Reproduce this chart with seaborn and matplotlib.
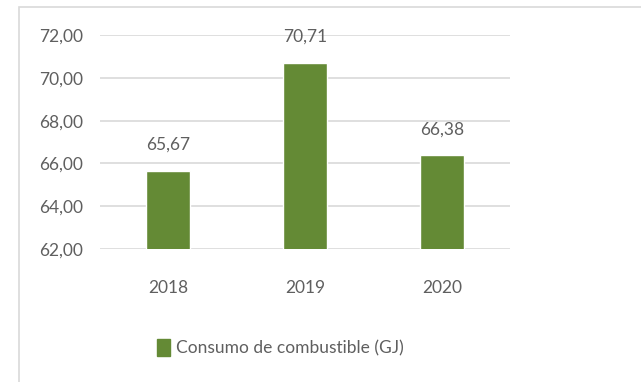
import matplotlib
matplotlib.use("Agg")
import matplotlib.pyplot as plt
import matplotlib.patches as mpatches
import seaborn as sns
import pandas as pd

# Annual fuel consumption
years = ["2018", "2019", "2020"]
consumo = [65.67, 70.71, 66.38]
value_labels = ["65,67", "70,71", "66,38"]
y_ticks = [62, 64, 66, 68, 70, 72]
y_tick_labels = ["62,00", "64,00", "66,00", "68,00", "70,00", "72,00"]
series_name = "Consumo de combustible (GJ)"

bar_color = "#648a35"
text_color = "#5f5f5f"
grid_color = "#d9d9d9"

sns.set_theme(style="white")
plt.rcParams["font.family"] = ["Lato", "DejaVu Sans"]

df = pd.DataFrame({"year": years, "consumo": consumo})

fig = plt.figure(figsize=(6.41, 3.82), dpi=100)
ax = fig.add_axes([0.156, 0.348, 0.640, 0.560])

# chart frame (light border; extends past the right/bottom edges)
frame = mpatches.Rectangle((19 / 641, -0.1), 1.0, 1 - 7 / 382 + 0.1,
                           transform=fig.transFigure, fill=False,
                           edgecolor=grid_color, linewidth=1.2, zorder=0)
fig.patches.append(frame)

sns.barplot(data=df, x="year", y="consumo", color=bar_color, width=0.32,
            saturation=1, ax=ax, zorder=3)

ax.set_ylim(62, 72)
ax.set_yticks(y_ticks)
ax.set_yticklabels(y_tick_labels)
ax.set_xlim(-0.5, 2.5)
ax.yaxis.grid(True, color=grid_color, linewidth=1.2, zorder=0)
ax.set_axisbelow(True)
for s in ax.spines.values():
    s.set_visible(False)
ax.set_xlabel("")
ax.set_ylabel("")
ax.tick_params(axis="y", length=0, pad=12, labelsize=12.5, labelcolor=text_color)
ax.tick_params(axis="x", length=0, pad=22, labelsize=12.5, labelcolor=text_color)

for i, (v, lab) in enumerate(zip(consumo, value_labels)):
    ax.annotate(lab, xy=(i, v), xytext=(0, 13), textcoords="offset points",
                ha="center", va="bottom", fontsize=12.5, color=text_color)

handle = mpatches.Patch(color=bar_color, label=series_name)
fig.legend(handles=[handle], loc="center", bbox_to_anchor=(280 / 641, 1 - 348 / 382),
           frameon=False, fontsize=12.5, labelcolor=text_color,
           handlelength=0.8, handleheight=1.1, handletextpad=0.3)

fig.savefig("out.png", dpi=100)
